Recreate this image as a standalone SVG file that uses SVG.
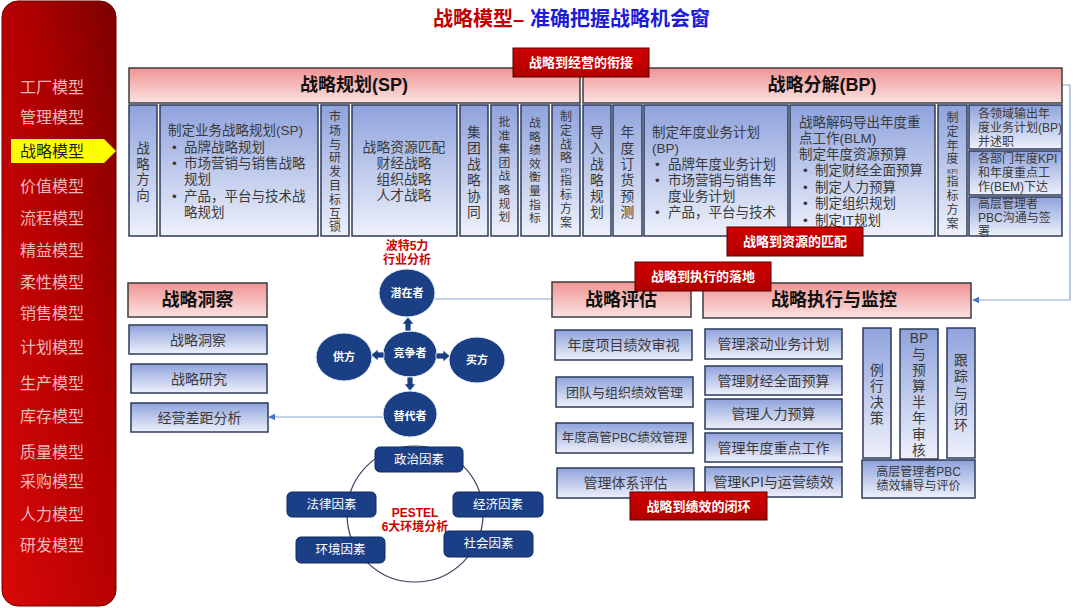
<svg xmlns="http://www.w3.org/2000/svg" width="1080" height="608" viewBox="0 0 1080 608">
<defs>
<linearGradient id="gSide" x1="0" y1="1" x2="1" y2="0">
<stop offset="0" stop-color="#d80808"/><stop offset="0.6" stop-color="#b00000"/><stop offset="1" stop-color="#7c0000"/>
</linearGradient>
<linearGradient id="gBlue" x1="0" y1="0" x2="0" y2="1">
<stop offset="0" stop-color="#8fa2dc"/><stop offset="1" stop-color="#eef1fb"/>
</linearGradient>
<linearGradient id="gPink" x1="0" y1="0" x2="0" y2="1">
<stop offset="0" stop-color="#f09494"/><stop offset="1" stop-color="#fbe2e2"/>
</linearGradient>
<linearGradient id="gRed" x1="0" y1="0" x2="0" y2="1">
<stop offset="0" stop-color="#d00000"/><stop offset="1" stop-color="#b00000"/>
</linearGradient>
<marker id="arr" viewBox="0 0 10 10" refX="9" refY="5" markerWidth="7" markerHeight="7" orient="auto-start-reverse" markerUnits="userSpaceOnUse">
<path d="M0,0 L10,5 L0,10 z" fill="#4a72c0"/>
</marker>
<style>
text{font-family:"Liberation Sans","Noto Sans CJK SC",sans-serif;dominant-baseline:central}
.box{fill:url(#gBlue);stroke:#2c3a57;stroke-width:1.5}
.hdr{fill:url(#gPink);stroke:#3c3c3c;stroke-width:1.5}
.tag{fill:url(#gRed);stroke:#5a0000;stroke-width:1}
.tagt{fill:#fff;font-size:13px;font-weight:bold;text-anchor:middle}
.ht{fill:#111;font-size:18px;font-weight:bold;text-anchor:middle}
.bt{fill:#3a3a3a;font-size:13.5px}
.ct{fill:#3a3a3a;font-size:14px;text-anchor:middle}
.vt{fill:#3a3a3a;text-anchor:middle}
.side{fill:#f0b8b8;font-size:16px;text-anchor:middle}
.circ{fill:#1b3f84;stroke:#e8eef8;stroke-width:1}
.cirt{fill:#fff;font-size:11px;font-weight:bold;text-anchor:middle}
.pb{fill:#1b3f86;stroke:#0e2a5e;stroke-width:1}
.pbt{fill:#fff;font-size:12.5px;text-anchor:middle}
.redt{fill:#d00000;font-size:12px;font-weight:bold;text-anchor:middle}
.ln{fill:none;stroke:#8aa4d0;stroke-width:1.2}
.blk{fill:#1b3f84;stroke:#ffffff;stroke-width:0.8}
</style>
</defs>
<rect width="1080" height="608" fill="#ffffff"/>

<!-- Sidebar -->
<g id="sidebar">
<rect x="2" y="1" width="114" height="605" rx="16" fill="url(#gSide)" stroke="#6a0000" stroke-width="1"/>
<polygon points="11,139 104,139 116,151 104,163 11,163" fill="#ffff00"/>
<text class="side" x="52" y="87">工厂模型</text>
<text class="side" x="52" y="117">管理模型</text>
<text x="52" y="151" style="fill:#222;font-size:16px;text-anchor:middle">战略模型</text>
<text class="side" x="52" y="186">价值模型</text>
<text class="side" x="52" y="218">流程模型</text>
<text class="side" x="52" y="250">精益模型</text>
<text class="side" x="52" y="282">柔性模型</text>
<text class="side" x="52" y="313">销售模型</text>
<text class="side" x="52" y="347">计划模型</text>
<text class="side" x="52" y="383">生产模型</text>
<text class="side" x="52" y="416">库存模型</text>
<text class="side" x="52" y="452">质量模型</text>
<text class="side" x="52" y="481">采购模型</text>
<text class="side" x="52" y="514">人力模型</text>
<text class="side" x="52" y="545">研发模型</text>
</g>

<!-- Title -->
<g id="title">
<text x="433" y="19" style="fill:#c00000;font-size:20px;font-weight:bold">战略模型–</text>
<text x="530" y="19" style="fill:#1c1cd8;font-size:20px;font-weight:bold">准确把握战略机会窗</text>
</g>

<!-- Connectors -->
<g id="connectors">
<line class="ln" x1="435" y1="299" x2="552" y2="299"/>
<line class="ln" x1="383" y1="417" x2="269" y2="417" marker-end="url(#arr)"/>
<polyline class="ln" points="1062,85 1070,85 1070,300 973,300" marker-end="url(#arr)"/>
</g>

<!-- Headers top -->
<g id="hdr-sp"><rect class="hdr" x="129" y="68" width="451" height="35"/><text class="ht" x="354" y="85">战略规划(SP)</text></g>
<g id="hdr-bp"><rect class="hdr" x="583" y="68" width="479" height="35"/><text class="ht" x="822" y="85">战略分解(BP)</text></g>

<!-- Top columns -->
<g id="c-fx"><rect class="box" x="129" y="105" width="28" height="131"/>
<text class="vt" style="font-size:13.5px"><tspan x="143" y="148">战</tspan><tspan x="143" y="163.6">略</tspan><tspan x="143" y="179.2">方</tspan><tspan x="143" y="194.8">向</tspan></text></g>

<g id="c-sp"><rect class="box" x="160" y="105" width="158" height="131"/>
<text class="bt" x="168" y="130">制定业务战略规划(SP)</text>
<text class="bt" x="172" y="147">•</text><text class="bt" x="184" y="147">品牌战略规划</text>
<text class="bt" x="172" y="163">•</text><text class="bt" x="184" y="163">市场营销与销售战略</text>
<text class="bt" x="184" y="179">规划</text>
<text class="bt" x="172" y="196">•</text><text class="bt" x="184" y="196">产品，平台与技术战</text>
<text class="bt" x="184" y="212">略规划</text></g>

<g id="c-sc"><rect class="box" x="321" y="105" width="28" height="131"/>
<text class="vt" style="font-size:12px"><tspan x="335" y="117">市</tspan><tspan x="335" y="130.8">场</tspan><tspan x="335" y="144.6">与</tspan><tspan x="335" y="158.4">研</tspan><tspan x="335" y="172.2">发</tspan><tspan x="335" y="186">目</tspan><tspan x="335" y="199.8">标</tspan><tspan x="335" y="213.6">互</tspan><tspan x="335" y="227.4">锁</tspan></text></g>

<g id="c-zy"><rect class="box" x="352" y="105" width="105" height="131"/>
<text class="ct" style="font-size:13.8px" x="404" y="147">战略资源匹配</text>
<text class="ct" style="font-size:13.8px" x="404" y="163">财经战略</text>
<text class="ct" style="font-size:13.8px" x="404" y="179">组织战略</text>
<text class="ct" style="font-size:13.8px" x="404" y="195">人才战略</text></g>

<g id="c-jt"><rect class="box" x="460" y="105" width="28" height="131"/>
<text class="vt" style="font-size:13.8px"><tspan x="474" y="132">集</tspan><tspan x="474" y="148">团</tspan><tspan x="474" y="164">战</tspan><tspan x="474" y="180">略</tspan><tspan x="474" y="196">协</tspan><tspan x="474" y="212">同</tspan></text></g>

<g id="c-pz"><rect class="box" x="491" y="105" width="27" height="131"/>
<text class="vt" style="font-size:11.8px"><tspan x="504.5" y="122">批</tspan><tspan x="504.5" y="135.6">准</tspan><tspan x="504.5" y="149.2">集</tspan><tspan x="504.5" y="162.8">团</tspan><tspan x="504.5" y="176.4">战</tspan><tspan x="504.5" y="190">略</tspan><tspan x="504.5" y="203.6">规</tspan><tspan x="504.5" y="217.2">划</tspan></text></g>

<g id="c-jx"><rect class="box" x="521" y="105" width="28" height="131"/>
<text class="vt" style="font-size:11.8px"><tspan x="535" y="123">战</tspan><tspan x="535" y="136.6">略</tspan><tspan x="535" y="150.2">绩</tspan><tspan x="535" y="163.8">效</tspan><tspan x="535" y="177.4">衡</tspan><tspan x="535" y="191">量</tspan><tspan x="535" y="204.6">指</tspan><tspan x="535" y="218.2">标</tspan></text></g>

<g id="c-kpi1"><rect class="box" x="552" y="105" width="28" height="131"/>
<text class="vt" style="font-size:12px"><tspan x="566" y="117">制</tspan><tspan x="566" y="130.8">定</tspan><tspan x="566" y="144.6">战</tspan><tspan x="566" y="158.4">略</tspan><tspan x="566" y="169.5" style="font-size:6.5px">KPI</tspan><tspan x="566" y="181">指</tspan><tspan x="566" y="195">标</tspan><tspan x="566" y="209">方</tspan><tspan x="566" y="223">案</tspan></text></g>

<g id="c-dr"><rect class="box" x="583" y="105" width="28" height="131"/>
<text class="vt" style="font-size:13.8px"><tspan x="597" y="132">导</tspan><tspan x="597" y="148">入</tspan><tspan x="597" y="164">战</tspan><tspan x="597" y="180">略</tspan><tspan x="597" y="196">规</tspan><tspan x="597" y="212">划</tspan></text></g>

<g id="c-dh"><rect class="box" x="613" y="105" width="29" height="131"/>
<text class="vt" style="font-size:13.8px"><tspan x="627.5" y="132">年</tspan><tspan x="627.5" y="148">度</tspan><tspan x="627.5" y="164">订</tspan><tspan x="627.5" y="180">货</tspan><tspan x="627.5" y="196">预</tspan><tspan x="627.5" y="212">测</tspan></text></g>

<g id="c-bp"><rect class="box" x="644" y="105" width="144" height="131"/>
<text class="bt" x="652" y="132">制定年度业务计划</text>
<text class="bt" x="652" y="148">(BP)</text>
<text class="bt" x="655" y="164">•</text><text class="bt" x="668" y="164">品牌年度业务计划</text>
<text class="bt" x="655" y="180">•</text><text class="bt" x="668" y="180">市场营销与销售年</text>
<text class="bt" x="668" y="196">度业务计划</text>
<text class="bt" x="655" y="212">•</text><text class="bt" x="668" y="212">产品，平台与技术</text></g>

<g id="c-blm"><rect class="box" x="790" y="105" width="145" height="131"/>
<text class="bt" x="799" y="122">战略解码导出年度重</text>
<text class="bt" x="799" y="138">点工作(BLM)</text>
<text class="bt" x="799" y="154">制定年度资源预算</text>
<text class="bt" x="803" y="170">•</text><text class="bt" x="815" y="170">制定财经全面预算</text>
<text class="bt" x="803" y="187">•</text><text class="bt" x="815" y="187">制定人力预算</text>
<text class="bt" x="803" y="203">•</text><text class="bt" x="815" y="203">制定组织规划</text>
<text class="bt" x="803" y="220">•</text><text class="bt" x="815" y="220">制定IT规划</text></g>

<g id="c-kpi2"><rect class="box" x="938" y="105" width="29" height="131"/>
<text class="vt" style="font-size:12px"><tspan x="952.5" y="118">制</tspan><tspan x="952.5" y="131.8">定</tspan><tspan x="952.5" y="145.6">年</tspan><tspan x="952.5" y="159.4">度</tspan><tspan x="952.5" y="170.5" style="font-size:6.5px">KPI</tspan><tspan x="952.5" y="182">指</tspan><tspan x="952.5" y="196">标</tspan><tspan x="952.5" y="210">方</tspan><tspan x="952.5" y="224">案</tspan></text></g>

<g id="c-r1"><rect class="box" x="969" y="105" width="93" height="44"/>
<text class="bt" style="font-size:12px" x="978" y="113.5">各领域输出年</text>
<text class="bt" style="font-size:12px" x="978" y="127.5">度业务计划(BP)</text>
<text class="bt" style="font-size:12px" x="978" y="141.5">并述职</text></g>
<g id="c-r2"><rect class="box" x="969" y="151" width="93" height="44"/>
<text class="bt" style="font-size:12px" x="978" y="159">各部门年度KPI</text>
<text class="bt" style="font-size:12px" x="978" y="173">和年度重点工</text>
<text class="bt" style="font-size:12px" x="978" y="187">作(BEM)下达</text></g>
<g id="c-r3"><rect class="box" x="969" y="197" width="93" height="39"/>
<text class="bt" style="font-size:12px" x="978" y="203.5">高层管理者</text>
<text class="bt" style="font-size:12px" x="978" y="217.5">PBC沟通与签</text>
<text class="bt" style="font-size:12px" x="978" y="231.5">署</text></g>

<!-- Porter -->
<g id="porter-title"><text class="redt" x="407" y="245.5">波特5力</text><text class="redt" x="407" y="259.5">行业分析</text></g>
<g id="n-qz"><ellipse class="circ" cx="407" cy="293" rx="28" ry="24"/><text class="cirt" x="407" y="293">潜在者</text></g>
<g id="n-jz"><ellipse class="circ" cx="410" cy="354" rx="27" ry="23"/><text class="cirt" x="410" y="353">竞争者</text></g>
<g id="n-gf"><ellipse class="circ" cx="344" cy="357" rx="28" ry="24"/><text class="cirt" x="344" y="357">供方</text></g>
<g id="n-mf"><ellipse class="circ" cx="477" cy="360" rx="28" ry="23"/><text class="cirt" x="477" y="360">买方</text></g>
<g id="n-td"><ellipse class="circ" cx="410" cy="414" rx="27" ry="23"/><text class="cirt" x="410" y="416">替代者</text></g>
<g id="porter-arrows">
<polygon class="blk" points="405,331 405,324 402,324 408,317 414,324 411,324 411,331"/>
<polygon class="blk" points="384,352 378,352 378,349 371,355 378,361 378,358 384,358"/>
<polygon class="blk" points="436,353 443,353 443,350 450,356 443,362 443,359 436,359"/>
<polygon class="blk" points="407,377 413,377 413,384 416,384 410,391 404,384 407,384"/>
</g>

<!-- PESTEL -->
<g id="pestel">
<circle cx="415" cy="514" r="68" fill="none" stroke="#3a3f5c" stroke-width="1.2"/>
<text class="redt" x="415" y="513">PESTEL</text>
<text class="redt" x="415" y="527">6大环境分析</text>
</g>
<g id="p-zz"><rect class="pb" x="375" y="447" width="88" height="25" rx="5"/><text class="pbt" x="419" y="459.5">政治因素</text></g>
<g id="p-fl"><rect class="pb" x="287" y="492" width="89" height="25" rx="5"/><text class="pbt" x="331.5" y="504.5">法律因素</text></g>
<g id="p-jj"><rect class="pb" x="453" y="492" width="90" height="25" rx="5"/><text class="pbt" x="498" y="504.5">经济因素</text></g>
<g id="p-hj"><rect class="pb" x="296" y="537" width="89" height="26" rx="5"/><text class="pbt" x="340.5" y="550">环境因素</text></g>
<g id="p-sh"><rect class="pb" x="444" y="531" width="89" height="26" rx="5"/><text class="pbt" x="488.5" y="544">社会因素</text></g>

<!-- Insight -->
<g id="hdr-dc"><rect class="hdr" x="128" y="283" width="139" height="34"/><text class="ht" x="197.5" y="300">战略洞察</text></g>
<g id="b-dc"><rect class="box" x="129" y="325" width="138" height="29"/><text class="ct" x="198" y="339.5">战略洞察</text></g>
<g id="b-yj"><rect class="box" x="131" y="364" width="136" height="29"/><text class="ct" x="199" y="378.5">战略研究</text></g>
<g id="b-cj"><rect class="box" x="131" y="403" width="137" height="29"/><text class="ct" x="199.5" y="417.5">经营差距分析</text></g>

<!-- Evaluation -->
<g id="hdr-pg"><rect class="hdr" x="552" y="282" width="139" height="35"/><text class="ht" x="621" y="300">战略评估</text></g>
<g id="b-e1"><rect class="box" x="555" y="330" width="137" height="30"/><text class="ct" x="623.5" y="345">年度项目绩效审视</text></g>
<g id="b-e2"><rect class="box" x="556" y="377" width="137" height="30"/><text class="ct" style="font-size:13px" x="624.5" y="392">团队与组织绩效管理</text></g>
<g id="b-e3"><rect class="box" x="556" y="423" width="137" height="30"/><text class="ct" style="font-size:12.5px" x="624.5" y="438">年度高管PBC绩效管理</text></g>
<g id="b-e4"><rect class="box" x="557" y="468" width="137" height="30"/><text class="ct" x="625.5" y="483">管理体系评估</text></g>

<!-- Execution -->
<g id="hdr-zx"><rect class="hdr" x="703" y="283" width="268" height="35"/><text class="ht" x="834" y="300">战略执行与监控</text></g>
<g id="b-x1"><rect class="box" x="705" y="329" width="137" height="30"/><text class="ct" x="773.5" y="344">管理滚动业务计划</text></g>
<g id="b-x2"><rect class="box" x="705" y="366" width="137" height="29"/><text class="ct" x="773.5" y="380.5">管理财经全面预算</text></g>
<g id="b-x3"><rect class="box" x="705" y="399" width="137" height="30"/><text class="ct" x="773.5" y="414">管理人力预算</text></g>
<g id="b-x4"><rect class="box" x="705" y="433" width="137" height="29"/><text class="ct" x="773.5" y="447.5">管理年度重点工作</text></g>
<g id="b-x5"><rect class="box" x="705" y="467" width="137" height="30"/><text class="ct" x="773.5" y="482">管理KPI与运营绩效</text></g>

<g id="b-lx"><rect class="box" x="863" y="328" width="28" height="130"/>
<text class="vt" style="font-size:13.8px"><tspan x="877" y="370">例</tspan><tspan x="877" y="386">行</tspan><tspan x="877" y="402">决</tspan><tspan x="877" y="418">策</tspan></text></g>
<g id="b-bp"><rect class="box" x="900" y="329" width="38" height="130"/>
<text class="vt" style="font-size:13.8px"><tspan x="919" y="338">BP</tspan><tspan x="919" y="354">与</tspan><tspan x="919" y="370">预</tspan><tspan x="919" y="386">算</tspan><tspan x="919" y="402">半</tspan><tspan x="919" y="418">年</tspan><tspan x="919" y="434">审</tspan><tspan x="919" y="450">核</tspan></text></g>
<g id="b-gz"><rect class="box" x="947" y="328" width="28" height="130"/>
<text class="vt" style="font-size:13.8px"><tspan x="961" y="360">跟</tspan><tspan x="961" y="376.3">踪</tspan><tspan x="961" y="392.6">与</tspan><tspan x="961" y="408.9">闭</tspan><tspan x="961" y="425.2">环</tspan></text></g>
<g id="b-pbc"><rect class="box" x="862" y="460" width="113" height="38"/>
<text class="ct" style="font-size:12px" x="918.5" y="471.5">高层管理者PBC</text>
<text class="ct" style="font-size:12px" x="918.5" y="486">绩效辅导与评价</text></g>

<!-- Red tags -->
<g id="tag1"><rect class="tag" x="513" y="48" width="136" height="29"/><text class="tagt" x="581" y="62.5">战略到经营的衔接</text></g>
<g id="tag2"><rect class="tag" x="727" y="227" width="136" height="29"/><text class="tagt" x="795" y="241.5">战略到资源的匹配</text></g>
<g id="tag3"><rect class="tag" x="635" y="262" width="136" height="29"/><text class="tagt" x="703" y="276.5">战略到执行的落地</text></g>
<g id="tag4"><rect class="tag" x="630" y="492" width="137" height="28"/><text class="tagt" x="698.5" y="506">战略到绩效的闭环</text></g>
</svg>
